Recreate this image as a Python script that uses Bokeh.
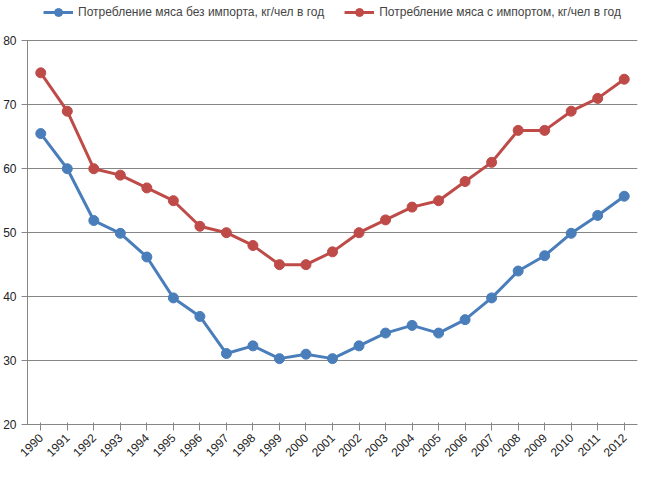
from bokeh.plotting import figure
from bokeh.models import Range1d, SingleIntervalTicker, Legend, LegendItem
from bokeh.embed import file_html
from bokeh.resources import INLINE
import math

years = list(range(1990, 2013))
no_import = [65.5, 60, 51.9, 49.9, 46.2, 39.8, 36.9, 31.1, 32.3, 30.3, 31, 30.3,
             32.3, 34.3, 35.5, 34.3, 36.4, 39.8, 44, 46.4, 49.9, 52.7, 55.7]
with_import = [75, 69, 60, 59, 57, 55, 51, 50, 48, 45, 45, 47, 50, 52, 54, 55,
               58, 61, 66, 66, 69, 71, 74]

blue = "#4a7ebb"
red = "#be4b48"

p = figure(width=651, height=463, output_backend="svg", toolbar_location=None,
           x_range=Range1d(1989.5, 2012.5), y_range=Range1d(20, 86),
           min_border_left=10, min_border_right=14, min_border_top=2, min_border_bottom=4)
p.outline_line_color = None
p.border_fill_color = "white"

b1 = p.line(years, no_import, line_color=blue, line_width=3)
b2 = p.scatter(years, no_import, size=10, fill_color=blue, line_color=blue)
r1 = p.line(years, with_import, line_color=red, line_width=3)
r2 = p.scatter(years, with_import, size=10, fill_color=red, line_color=red)

p.xgrid.grid_line_color = None
p.ygrid.grid_line_color = "#868686"
p.ygrid.bounds = (20, 80)
p.yaxis.bounds = (20, 80)
p.yaxis.ticker = SingleIntervalTicker(interval=10)
p.xaxis.ticker = SingleIntervalTicker(interval=1)
p.xaxis.major_label_orientation = math.pi / 4
p.xaxis.major_label_text_font_size = "12px"
p.yaxis.major_label_text_font_size = "12px"
p.xaxis.major_label_text_color = "#222222"
p.yaxis.major_label_text_color = "#222222"
p.yaxis.axis_line_color = "#868686"
p.xaxis.axis_line_color = "#868686"
p.yaxis.minor_tick_line_color = None
p.xaxis.minor_tick_line_color = None
p.yaxis.major_tick_line_color = "#868686"
p.xaxis.major_tick_line_color = "#868686"

legend = Legend(items=[
    LegendItem(label="Потребление мяса без импорта, кг/чел в год", renderers=[b1, b2]),
    LegendItem(label="Потребление мяса с импортом, кг/чел в год", renderers=[r1, r2]),
], orientation="horizontal", location="top_center", border_line_color=None,
    background_fill_alpha=0, label_text_font_size="12px", spacing=20,
    glyph_width=30, padding=0, margin=0)
p.add_layout(legend)

open("out.html", "w").write(file_html(p, INLINE))
